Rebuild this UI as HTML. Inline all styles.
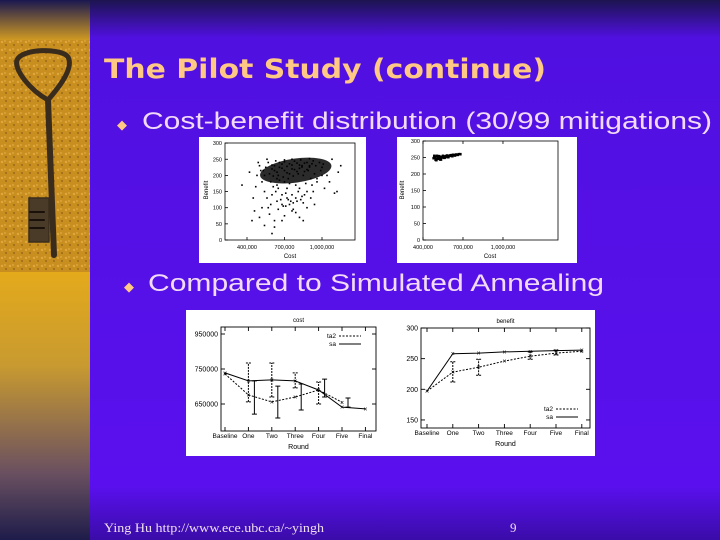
<!DOCTYPE html>
<html><head><meta charset="utf-8"><style>
html,body{margin:0;padding:0;width:720px;height:540px;overflow:hidden;background:#5a10ee}
svg{display:block}
text{font-family:"Liberation Sans",sans-serif}
</style></head><body>
<svg id="slide" width="720" height="540" viewBox="0 0 720 540">
<defs>
<linearGradient id="bgv" x1="0" y1="0" x2="0" y2="1">
<stop offset="0" stop-color="#1c1450"/><stop offset="0.07" stop-color="#5010e0"/><stop offset="0.9" stop-color="#5a10ee"/><stop offset="1" stop-color="#3a0ca8"/></linearGradient>
<linearGradient id="lt" x1="0" y1="0" x2="0" y2="1">
<stop offset="0" stop-color="#1a1850"/><stop offset="1" stop-color="#d8a020"/></linearGradient>
<linearGradient id="lb" x1="0" y1="0" x2="0" y2="1">
<stop offset="0" stop-color="#e4aa1c"/><stop offset="0.35" stop-color="#c89a30"/><stop offset="0.75" stop-color="#6a5060"/><stop offset="1" stop-color="#1e1c4a"/></linearGradient>
<pattern id="sand" width="8" height="8" patternUnits="userSpaceOnUse">
<rect width="8" height="8" fill="#c98e20"/><circle cx="2" cy="2" r="1.2" fill="#e0a83a"/><circle cx="6" cy="5" r="1" fill="#9a6a18"/><circle cx="5" cy="1" r="0.7" fill="#e8b850"/></pattern>
</defs>
<rect x="0" y="0" width="720" height="540" fill="url(#bgv)"/>
<g>
<rect x="0" y="0" width="90" height="42" fill="url(#lt)"/>
<rect x="0" y="40" width="90" height="233" fill="url(#sand)"/>
<rect x="0" y="272" width="90" height="268" fill="url(#lb)"/>
<g fill="none" stroke="#3a2c1c" stroke-linecap="round">
<path d="M48 100 C30 90,14 70,17 60 C22 48,62 48,68 57 C74 68,60 86,48 100 Z" stroke-width="5"/>
<line x1="48" y1="100" x2="54" y2="255" stroke-width="6"/>
<rect x="29" y="198" width="20" height="44" fill="#4a3a28" stroke-width="1.5"/>
<path d="M30 212h14M30 220h14M30 228h14" stroke="#1a120a" stroke-width="2"/>
</g>
</g>
<text x="104" y="78" font-size="27" font-weight="bold" fill="#ffc884" style="font-family:'DejaVu Sans',sans-serif" textLength="442" lengthAdjust="spacingAndGlyphs">The Pilot Study (continue)</text>
<text x="117" y="129" font-size="13" fill="#ffc884">◆</text>
<text x="142" y="129" font-size="24" fill="#f2daf8" textLength="570" lengthAdjust="spacingAndGlyphs">Cost-benefit distribution (30/99 mitigations)</text>
<text x="124" y="291" font-size="13" fill="#ffc884">◆</text>
<text x="148" y="291" font-size="24" fill="#f2daf8" textLength="456" lengthAdjust="spacingAndGlyphs">Compared to Simulated Annealing</text>
<text x="104" y="532" font-size="13" fill="#f0e0f0" style="font-family:'Liberation Serif',serif" textLength="220" lengthAdjust="spacingAndGlyphs">Ying Hu http://www.ece.ubc.ca/~yingh</text>
<text x="510" y="532" font-size="13" fill="#f0e0f0" style="font-family:'Liberation Serif',serif">9</text>
<g id="charts"></g>
</svg>
<script>
// ---- data ----
const scatter1Cost = [600,620,640,660,680,700,720,740,760,780,800,820,840,860,880,900,920,580,610,650,690,730,770,810,850,890,930,570,630,700,760,830,900,950,980,1000,660,700,740,790,640,720,620,680,720,760,800,840,880,660,700,740,780,820,860,900,600,640,
480,500,520,540,560,600,640,680,720,760,800,840,880,920,960,1040,1100,1150,460,520,580,620,700,760,820,880,940,360,420,450,540,600,650,1020,1080,560,500,740,680,820,
530,550,590,610,630,670,690,710,750,770,790,810,830,850,870,910,940,960,990,1010,1060,1120,470,510,570,650,730,790,860,910,440,490,590,710,770,850,930,1000,1130,680,620,540];
const scatter1Benefit = [220,230,210,225,235,215,228,205,232,218,238,222,230,212,240,226,236,205,198,200,195,190,198,205,200,215,245,240,245,248,250,248,252,230,240,225,185,180,175,170,170,160,215,222,208,220,212,226,218,240,242,236,244,232,238,230,232,190,
200,230,180,150,130,140,120,110,130,140,120,135,150,170,190,200,145,230,90,100,80,60,75,90,70,100,110,170,210,130,45,20,95,160,250,250,70,110,140,160,
215,225,180,165,150,125,105,145,120,115,130,150,125,115,175,190,205,180,215,235,180,150,165,215,100,160,125,85,140,130,60,240,110,105,95,60,150,200,210,60,40,200];
const scatter2Cost = [480,490,500,510,520,530,540,550,560,570,580,590,600,610,620,630,640,650,660,670,680,495,505,515,525,535,545,555,565,575,585,595,605,615,625,485,500,530];
const scatter2Benefit = [248,252,245,250,254,247,252,255,249,253,256,251,255,257,254,258,256,259,258,260,260,243,255,246,252,244,250,253,250,254,252,255,256,256,258,255,242,244];
const rounds = ["Baseline","One","Two","Three","Four","Five","Final"];
const costSa = [739,716,719,716,690,641,636];
const costTa2 = [736,676,656,670,690,655,null];
const costTa2Lo = [null,656,670,696,650,null,null];
const costTa2Hi = [null,767,767,739,713,null,null];
const costSaLo = [null,621,610,633,670,641,null];
const costSaHi = [null,716,701,707,721,667,null];
const costTicks = [850,750,650];
const costTickLabels = ["950000","750000","650000"];
const benSa = [197,258,259,261,262,263,264];
const benTa2 = [197,228,236,246,254,259,262];
const benTa2Lo = [null,212,223,null,249,256,null];
const benTa2Hi = [null,245,249,null,261,264,null];
const benTicks = [300,250,200,150];
const benTickLabels = ["300","250","200","150"];
const s1YTicks = [0,50,100,150,200,250,300];
const s1XTicks = [400,700,1000];
const s1XLabels = ["400,000","700,000","1,000,000"];

const NS = "http://www.w3.org/2000/svg";
const root = document.getElementById('charts');
function mk(tag, attrs, parent){const e=document.createElementNS(NS,tag);for(const k in attrs)e.setAttribute(k,attrs[k]);(parent||root).appendChild(e);return e;}
function txt(x,y,s,size,anchor,parent){const t=mk('text',{x:x,y:y,'font-size':size,'text-anchor':anchor||'start',fill:'#000'},parent);t.textContent=s;return t;}

// ---- scatter 1 ----
(function(){
  const g=mk('g',{});
  
  
  mk('rect',{x:199,y:137,width:167,height:126,fill:'#fff'},g);
  const X=c=>247+(c-400)*0.125, Y=v=>240-v*0.323;
  mk('rect',{x:225,y:143,width:130,height:97,fill:'none',stroke:'#000','stroke-width':0.8},g);
  s1YTicks.forEach(v=>{mk('line',{x1:225,y1:Y(v),x2:228,y2:Y(v),stroke:'#000','stroke-width':0.8},g);const t=txt(222,Y(v)+2,String(v),5.5,'end',g);});
  s1XTicks.forEach((c,i)=>{mk('line',{x1:X(c),y1:240,x2:X(c),y2:237,stroke:'#000','stroke-width':0.8},g);const t=txt(X(c),249,s1XLabels[i],5.5,'middle',g);});
  const xl=txt(290,258,'Cost',6,'middle',g);
  const yl=txt(0,0,'Benefit',6,'middle',g);yl.setAttribute('transform','translate(208,190) rotate(-90)');
  const core=mk('ellipse',{cx:X(790),cy:Y(215),rx:36,ry:12,fill:'#141414',opacity:0.9,transform:`rotate(-8 ${X(790)} ${Y(215)})`},g);
  
  scatter1Cost.forEach((c,i)=>{const p=mk('rect',{x:X(c)-0.8,y:Y(scatter1Benefit[i])-0.8,width:1.6,height:1.6,fill:'#000'},g);});
})();

// ---- scatter 2 ----
(function(){
  const g=mk('g',{});
  
  
  mk('rect',{x:397,y:137,width:180,height:126,fill:'#fff'},g);
  const X=c=>423+(c-400)*0.1333, Y=v=>240-v*0.33;
  mk('rect',{x:423,y:141,width:135,height:99,fill:'none',stroke:'#000','stroke-width':0.8},g);
  s1YTicks.forEach(v=>{mk('line',{x1:423,y1:Y(v),x2:426,y2:Y(v),stroke:'#000','stroke-width':0.8},g);const t=txt(420,Y(v)+2,String(v),5.5,'end',g);});
  s1XTicks.forEach((c,i)=>{mk('line',{x1:X(c),y1:240,x2:X(c),y2:237,stroke:'#000','stroke-width':0.8},g);mk('line',{x1:X(c),y1:141,x2:X(c),y2:144,stroke:'#000','stroke-width':0.8},g);const t=txt(X(c),249,s1XLabels[i],5.5,'middle',g);});
  const xl=txt(490,258,'Cost',6,'middle',g);
  const yl=txt(0,0,'Benefit',6,'middle',g);yl.setAttribute('transform','translate(404,190) rotate(-90)');
  scatter2Cost.forEach((c,i)=>{const p=mk('rect',{x:X(c)-1.3,y:Y(scatter2Benefit[i])-1.3,width:2.6,height:2.6,fill:'#000'},g);});
})();

// ---- line charts ----
const panel=mk('rect',{x:186,y:310,width:409,height:146,fill:'#fff'});


function lineChart(opt){
  const g=mk('g',{});
  
  
  const {x0,x1,yTop,yBot,Y}=opt;
  const X=i=>opt.cx0+i*opt.step;
  mk('rect',{x:x0,y:yTop,width:x1-x0,height:yBot-yTop,fill:'none',stroke:'#000','stroke-width':0.9},g);
  const tt=txt((x0+x1)/2,yTop-5,opt.title,6,'middle',g);
  opt.ticks.forEach((v,i)=>{mk('line',{x1:x0,y1:Y(v),x2:x0+4,y2:Y(v),stroke:'#000','stroke-width':0.9},g);mk('line',{x1:x1,y1:Y(v),x2:x1-4,y2:Y(v),stroke:'#000','stroke-width':0.9},g);const t=txt(x0-3,Y(v)+2.5,opt.tickLabels[i],7,'end',g);});
  rounds.forEach((r,i)=>{mk('line',{x1:X(i),y1:yBot,x2:X(i),y2:yBot-4,stroke:'#000','stroke-width':0.9},g);mk('line',{x1:X(i),y1:yTop,x2:X(i),y2:yTop+4,stroke:'#000','stroke-width':0.9},g);const t=txt(X(i),yBot+7,r,6.5,'middle',g);});
  const xl=txt((x0+x1)/2,yBot+18,'Round',7,'middle',g);
  function series(vals,dash,nm){
    const pts=[];vals.forEach((v,i)=>{if(v!=null)pts.push(X(i)+','+Y(v));});
    const pl=mk('polyline',{points:pts.join(' '),fill:'none',stroke:'#000','stroke-width':1,'stroke-dasharray':dash},g);
    
    vals.forEach((v,i)=>{if(v==null)return;const m=mk('text',{x:X(i),y:Y(v)+2.5,'font-size':7,'text-anchor':'middle',fill:'#000'},g);m.textContent='×';});
  }
  function errs(lo,hi,off,dash,nm){
    lo.forEach((l,i)=>{if(l==null)return;const x=X(i)+off,h=hi[i];
      const e=mk('path',{d:`M${x},${Y(l)}V${Y(h)}M${x-2.5},${Y(l)}h5M${x-2.5},${Y(h)}h5`,stroke:'#000','stroke-width':1,fill:'none','stroke-dasharray':dash},g);
      });
  }
  series(opt.sa,'','sa');series(opt.ta2,'2,1.5','ta2');
  errs(opt.ta2Lo,opt.ta2Hi,0,'2,1','ta2');errs(opt.saLo,opt.saHi,opt.off,'','sa');
  const lg=mk('g',{},g);
  txt(opt.lx,opt.ly,'ta2',6.5,'end',lg);mk('line',{x1:opt.lx+3,y1:opt.ly-2,x2:opt.lx+25,y2:opt.ly-2,stroke:'#000','stroke-dasharray':'2,1.5'},lg);
  txt(opt.lx,opt.ly+8,'sa',6.5,'end',lg);mk('line',{x1:opt.lx+3,y1:opt.ly+6,x2:opt.lx+25,y2:opt.ly+6,stroke:'#000'},lg);
}
lineChart({name:'cost-comparison-chart',title:'cost',x0:221,x1:376,yTop:327,yBot:431,Y:v=>334+(850-v)*0.35,cx0:225,step:23.4,
  ticks:costTicks,tickLabels:costTickLabels,sa:costSa,ta2:costTa2,ta2Lo:costTa2Lo,ta2Hi:costTa2Hi,saLo:costSaLo,saHi:costSaHi,off:6,lx:336,ly:338});
lineChart({name:'benefit-comparison-chart',title:'benefit',x0:421,x1:590,yTop:328,yBot:428,Y:v=>328+(300-v)*0.613,cx0:427,step:25.8,
  ticks:benTicks,tickLabels:benTickLabels,sa:benSa,ta2:benTa2,ta2Lo:benTa2Lo,ta2Hi:benTa2Hi,saLo:[],saHi:[],off:5,lx:553,ly:411});
</script>
</body></html>
